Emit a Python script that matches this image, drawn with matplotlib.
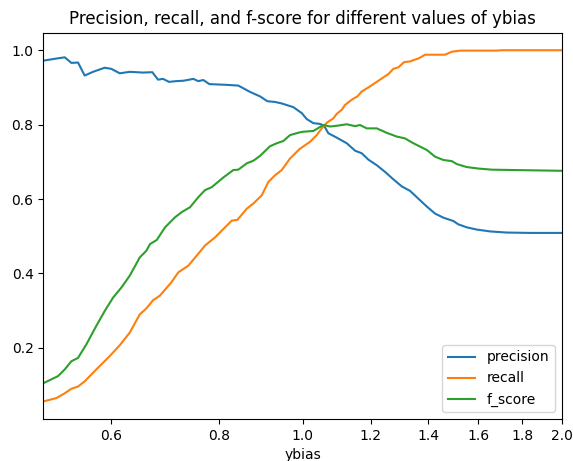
import matplotlib
matplotlib.use("Agg")
import matplotlib.pyplot as plt
from matplotlib.ticker import FixedLocator, FixedFormatter, NullLocator

# values
prec_x = [0.500, 0.5155, 0.5295, 0.5389, 0.5486, 0.5585, 0.5711, 0.5892, 0.5997, 0.6134,
          0.6300, 0.6528, 0.6692, 0.6795, 0.6887, 0.6998, 0.7136, 0.7271, 0.7468, 0.7568,
          0.7670, 0.7794, 0.8166, 0.8423, 0.8691, 0.8926, 0.9102, 0.9292, 0.9460, 0.9758,
          0.9980, 1.0114, 1.0294, 1.0480, 1.0593, 1.0715, 1.0959, 1.1256, 1.1509, 1.1717,
          1.1925, 1.2196, 1.2470, 1.2750, 1.3040, 1.3332, 1.3632, 1.3941, 1.4254, 1.4574,
          1.4969, 1.5171, 1.5515, 1.5936, 1.6513, 1.7267, 1.8378, 2.0]
prec_y = [0.972, 0.977, 0.981, 0.966, 0.967, 0.932, 0.942, 0.953, 0.950, 0.938,
          0.942, 0.940, 0.941, 0.921, 0.923, 0.915, 0.917, 0.918, 0.923, 0.917,
          0.920, 0.909, 0.907, 0.905, 0.888, 0.876, 0.863, 0.861, 0.857, 0.847,
          0.831, 0.815, 0.804, 0.802, 0.797, 0.777, 0.765, 0.750, 0.730, 0.723,
          0.706, 0.691, 0.673, 0.653, 0.634, 0.622, 0.601, 0.580, 0.561, 0.550,
          0.541, 0.532, 0.524, 0.518, 0.513, 0.510, 0.509, 0.509]

rec_x = [0.500, 0.5177, 0.5295, 0.5389, 0.5486, 0.5585, 0.5761, 0.5972, 0.6134, 0.6300,
         0.6471, 0.6586, 0.6705, 0.6826, 0.7041, 0.7174, 0.7369, 0.7536, 0.7705, 0.7914,
         0.8129, 0.8276, 0.8401, 0.8614, 0.8768, 0.8967, 0.9127, 0.9292, 0.9460, 0.9672,
         0.9916, 1.0204, 1.0388, 1.0528, 1.0670, 1.0860, 1.0959, 1.1106, 1.1205, 1.1407,
         1.1580, 1.1717, 1.1980, 1.2304, 1.2581, 1.2750, 1.2922, 1.3120, 1.3332, 1.3668,
         1.3878, 1.4641, 1.4905, 1.5240, 1.6812, 1.7038, 2.0]
rec_y = [0.056, 0.065, 0.078, 0.090, 0.096, 0.110, 0.142, 0.178, 0.207, 0.241,
         0.290, 0.306, 0.328, 0.340, 0.376, 0.403, 0.421, 0.448, 0.475, 0.497,
         0.524, 0.542, 0.544, 0.574, 0.588, 0.610, 0.646, 0.664, 0.678, 0.709,
         0.734, 0.754, 0.772, 0.790, 0.805, 0.817, 0.829, 0.840, 0.853, 0.867,
         0.876, 0.889, 0.903, 0.921, 0.936, 0.950, 0.954, 0.968, 0.970, 0.979,
         0.988, 0.988, 0.996, 0.999, 0.999, 1.0, 1.0]

f_x = [0.500, 0.5200, 0.5295, 0.5389, 0.5486, 0.5609, 0.5761, 0.5892, 0.6025, 0.6160,
       0.6300, 0.6471, 0.6586, 0.6651, 0.6772, 0.6924, 0.7111, 0.7240, 0.7402, 0.7568,
       0.7705, 0.7845, 0.8092, 0.8311, 0.8423, 0.8614, 0.8768, 0.8926, 0.9168, 0.9334,
       0.9500, 0.9672, 0.9916, 1.0022, 1.0294, 1.0573, 1.0764, 1.0959, 1.1256, 1.1509,
       1.1663, 1.1874, 1.2196, 1.2527, 1.2866, 1.3155, 1.3451, 1.3694, 1.3941, 1.4254,
       1.4574, 1.4905, 1.5106, 1.5515, 1.6004, 1.6588, 1.7575, 2.0]
f_y = [0.105, 0.124, 0.142, 0.164, 0.173, 0.209, 0.259, 0.299, 0.335, 0.362,
       0.394, 0.443, 0.461, 0.479, 0.490, 0.524, 0.551, 0.565, 0.578, 0.605,
       0.624, 0.632, 0.658, 0.678, 0.679, 0.696, 0.703, 0.716, 0.742, 0.750,
       0.756, 0.772, 0.779, 0.781, 0.783, 0.799, 0.795, 0.797, 0.801, 0.796,
       0.799, 0.790, 0.790, 0.778, 0.768, 0.763, 0.750, 0.741, 0.732, 0.714,
       0.705, 0.702, 0.694, 0.686, 0.682, 0.679, 0.678, 0.676]

x_ticks = [0.6, 0.8, 1.0, 1.2, 1.4, 1.6, 1.8, 2.0]
x_tick_labels = ["0.6", "0.8", "1.0", "1.2", "1.4", "1.6", "1.8", "2.0"]

fig = plt.figure(figsize=(5.73, 4.61), dpi=100)
ax = fig.add_axes([0.0756, 0.0911, 0.9047, 0.838])

ax.plot(prec_x, prec_y, label="precision")
ax.plot(rec_x, rec_y, label="recall")
ax.plot(f_x, f_y, label="f_score")

ax.set_xscale("log")
ax.set_xlim(0.5, 2.0)
ax.xaxis.set_major_locator(FixedLocator(x_ticks))
ax.xaxis.set_major_formatter(FixedFormatter(x_tick_labels))
ax.xaxis.set_minor_locator(NullLocator())

ax.set_title("Precision, recall, and f-score for different values of ybias")
ax.set_xlabel("ybias")
ax.legend(loc="lower right")

fig.savefig("out.png", dpi=100)
